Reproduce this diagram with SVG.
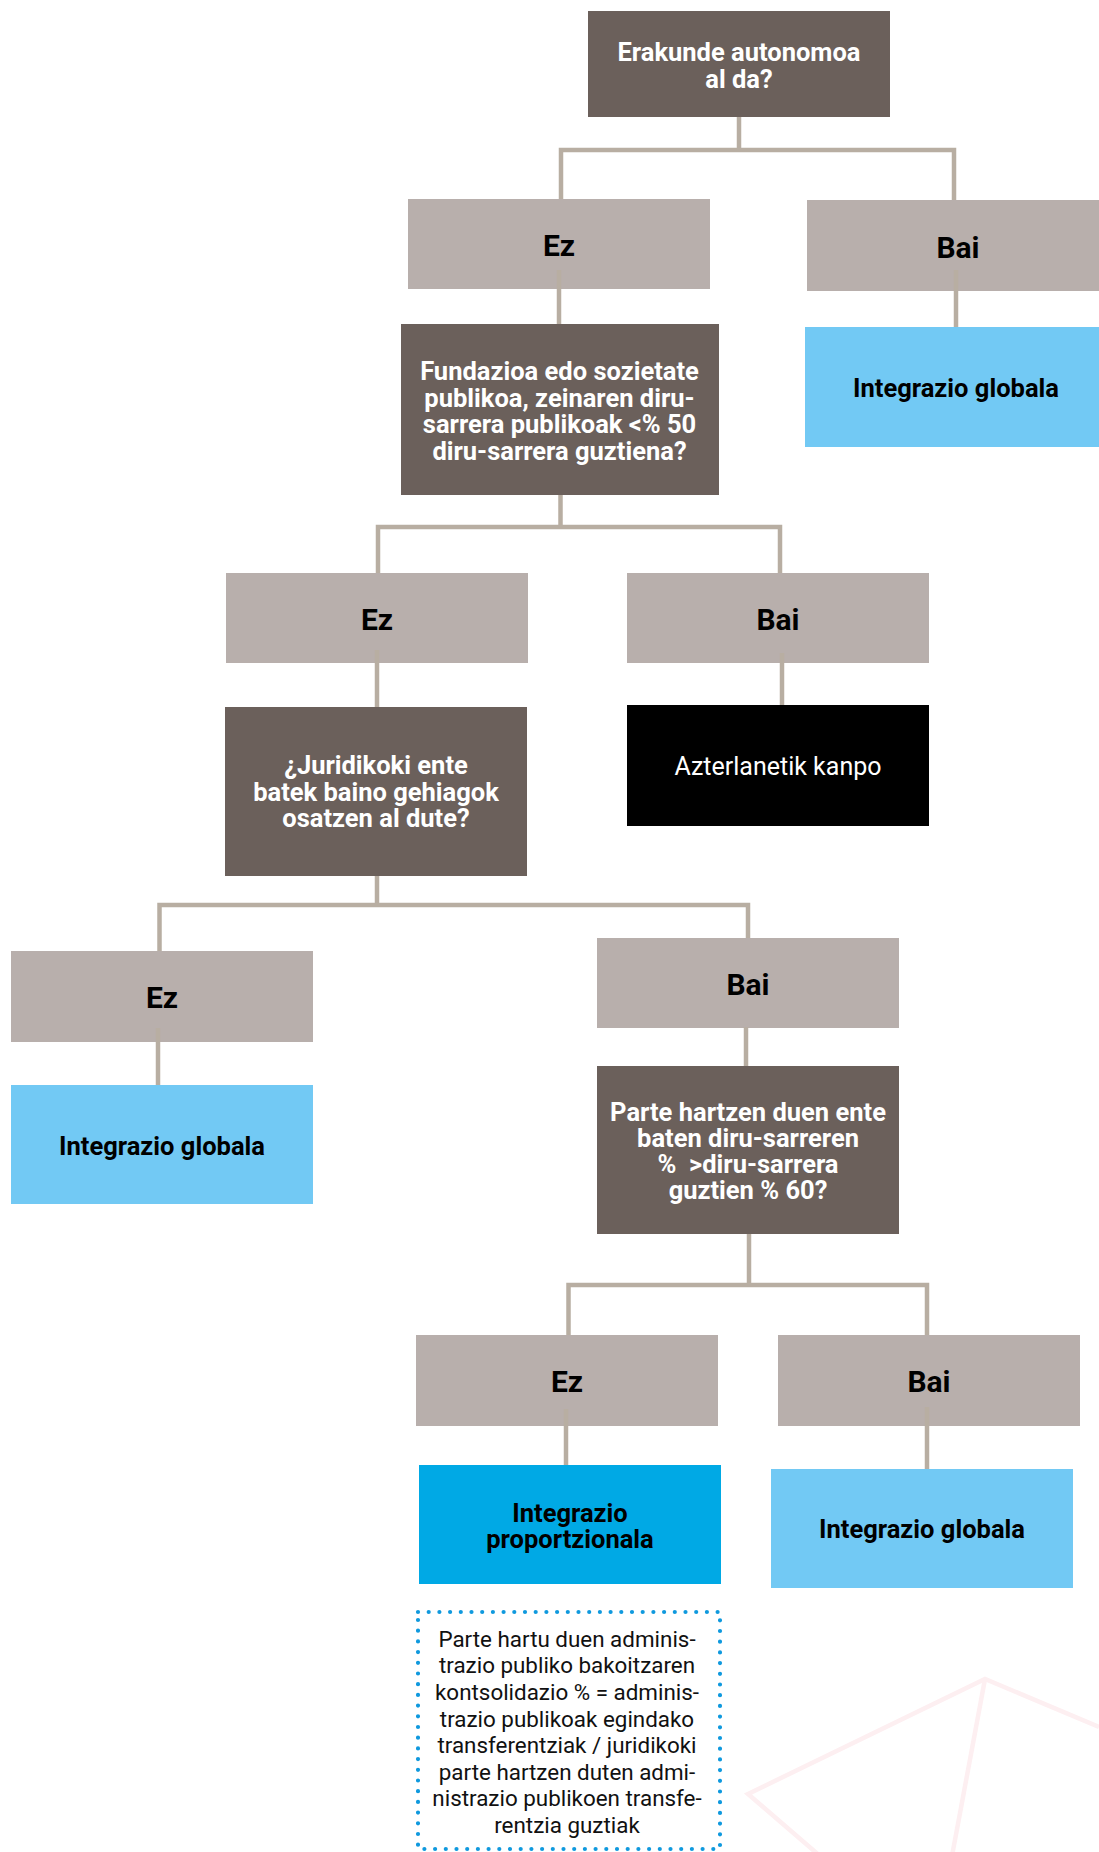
<svg xmlns="http://www.w3.org/2000/svg" width="1099" height="1852" viewBox="0 0 1099 1852">
<style>
.q{fill:#6b605b}
.lab{fill:#b8afac}
.gl{fill:#72c9f4}
.pr{fill:#00a9e5}
.out{fill:#000000}
.tw{font-family:Roboto,"Liberation Sans",Arial,sans-serif;font-weight:700;font-size:25.5px;fill:#ffffff;text-anchor:middle}
.tl{font-family:Roboto,"Liberation Sans",Arial,sans-serif;font-weight:700;font-size:30px;fill:#000000;text-anchor:middle}
.tg{font-family:Roboto,"Liberation Sans",Arial,sans-serif;font-weight:700;font-size:25.5px;fill:#000000;text-anchor:middle}
.to{font-family:Roboto,"Liberation Sans",Arial,sans-serif;font-weight:400;font-size:25px;fill:#ffffff;text-anchor:middle}
.tn{font-family:Roboto,"Liberation Sans",Arial,sans-serif;font-weight:400;font-size:22.4px;fill:#111111;text-anchor:middle}
.conn path{fill:none;stroke:#b8aea2;stroke-width:4.5;stroke-linejoin:miter}
</style>
<rect width="1099" height="1852" fill="#ffffff"/>
<g id="decor" fill="none" stroke="#fdeff1" stroke-width="4.5" stroke-linejoin="miter">
<path d="M1099,1727 L985,1679 L748,1794 L820,1856"/>
<path d="M985,1679 L952,1856"/>
</g>
<g id="n-q1"><rect class="q" x="588" y="11" width="302" height="106"/>
<text class="tw" x="739" y="61">Erakunde autonomoa</text><text class="tw" x="739" y="87.5">al da?</text></g>
<g id="n-ez1"><rect class="lab" x="408" y="199" width="302" height="90"/><text class="tl" x="559" y="256">Ez</text></g>
<g id="n-bai1"><rect class="lab" x="807" y="200" width="302" height="91"/><text class="tl" x="958" y="258">Bai</text></g>
<g id="n-g1"><rect class="gl" x="805" y="327" width="302" height="120"/><text class="tg" x="956" y="396.5">Integrazio globala</text></g>
<g id="n-q2"><rect class="q" x="401" y="324" width="318" height="171"/>
<text class="tw" x="559.5" y="380">Fundazioa edo sozietate</text>
<text class="tw" x="559.5" y="406.5">publikoa, zeinaren diru-</text>
<text class="tw" x="559.5" y="433">sarrera publikoak &lt;% 50</text>
<text class="tw" x="559.5" y="459.5">diru-sarrera guztiena?</text></g>
<g id="n-ez2"><rect class="lab" x="226" y="573" width="302" height="90"/><text class="tl" x="377" y="630">Ez</text></g>
<g id="n-bai2"><rect class="lab" x="627" y="573" width="302" height="90"/><text class="tl" x="778" y="630">Bai</text></g>
<g id="n-q3"><rect class="q" x="225" y="707" width="302" height="169"/>
<text class="tw" x="376" y="774">¿Juridikoki ente</text>
<text class="tw" x="376" y="800.5">batek baino gehiagok</text>
<text class="tw" x="376" y="827">osatzen al dute?</text></g>
<g id="n-out"><rect class="out" x="627" y="705" width="302" height="121"/><text class="to" x="778" y="775">Azterlanetik kanpo</text></g>
<g id="n-ez3"><rect class="lab" x="11" y="951" width="302" height="91"/><text class="tl" x="162" y="1008">Ez</text></g>
<g id="n-g2"><rect class="gl" x="11" y="1085" width="302" height="119"/><text class="tg" x="162" y="1155">Integrazio globala</text></g>
<g id="n-bai3"><rect class="lab" x="597" y="938" width="302" height="90"/><text class="tl" x="748" y="995">Bai</text></g>
<g id="n-q4"><rect class="q" x="597" y="1066" width="302" height="168"/>
<text class="tw" x="748" y="1121">Parte hartzen duen ente</text>
<text class="tw" x="748" y="1147">baten diru-sarreren</text>
<text class="tw" x="748" y="1173" xml:space="preserve">%  &gt;diru-sarrera</text>
<text class="tw" x="748" y="1199">guztien % 60?</text></g>
<g id="n-ez4"><rect class="lab" x="416" y="1335" width="302" height="91"/><text class="tl" x="567" y="1392">Ez</text></g>
<g id="n-bai4"><rect class="lab" x="778" y="1335" width="302" height="91"/><text class="tl" x="929" y="1392">Bai</text></g>
<g id="n-prop"><rect class="pr" x="419" y="1465" width="302" height="119"/>
<text class="tg" x="570" y="1521.5">Integrazio</text><text class="tg" x="570" y="1547.5">proportzionala</text></g>
<g id="n-g3"><rect class="gl" x="771" y="1469" width="302" height="119"/><text class="tg" x="922" y="1538">Integrazio globala</text></g>
<g id="n-note"><rect x="418" y="1612" width="302" height="237" fill="none" stroke="#0f99de" stroke-width="4.2" stroke-linecap="round" stroke-dasharray="0 10.7"/>
<text class="tn" x="567" y="1646.5">Parte hartu duen adminis-</text>
<text class="tn" x="567" y="1673">trazio publiko bakoitzaren</text>
<text class="tn" x="567" y="1700">kontsolidazio % = adminis-</text>
<text class="tn" x="567" y="1726.5">trazio publikoak egindako</text>
<text class="tn" x="567" y="1753">transferentziak / juridikoki</text>
<text class="tn" x="567" y="1779.5">parte hartzen duten admi-</text>
<text class="tn" x="567" y="1806">nistrazio publikoen transfe-</text>
<text class="tn" x="567" y="1833">rentzia guztiak</text></g>
<g id="connectors" class="conn">
<path d="M739,117 V150"/>
<path d="M561,199 V150 H954 V200"/>
<path d="M559,270 V324"/>
<path d="M956,270 V327"/>
<path d="M560.5,495 V527"/>
<path d="M378,573 V527 H780 V573"/>
<path d="M377,650 V707"/>
<path d="M782,653 V705"/>
<path d="M377,876 V905"/>
<path d="M159.5,951 V905 H748 V938"/>
<path d="M158,1028 V1085"/>
<path d="M746,1027 V1066"/>
<path d="M749,1234 V1285"/>
<path d="M568.5,1335 V1285 H927 V1335"/>
<path d="M566,1409 V1465"/>
<path d="M927,1407 V1469"/>
</g>
</svg>
